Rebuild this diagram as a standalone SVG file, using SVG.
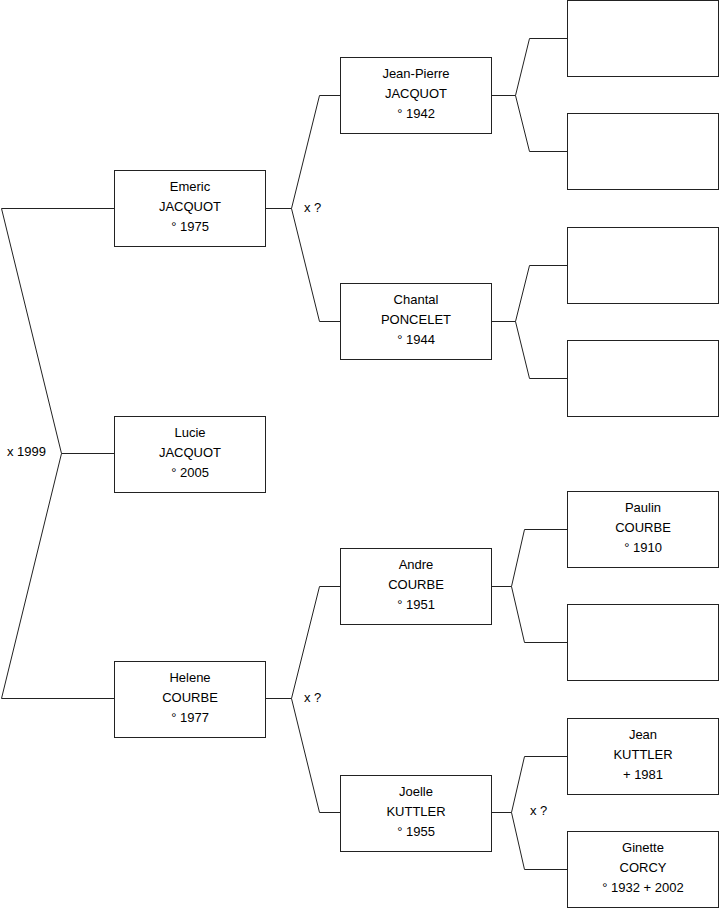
<svg xmlns="http://www.w3.org/2000/svg" width="719" height="908" viewBox="0 0 719 908">
<style>
.box{fill:#fff;stroke:#222;stroke-width:1}
.ln{fill:none;stroke:#222;stroke-width:1}
text{font-family:"Liberation Sans",Arial,sans-serif;font-size:13px;fill:#000}
.c{text-anchor:middle}
</style>
<rect width="719" height="908" fill="#fff"/>
<g id="connectors">
<path class="ln" d="M114,208.5 H1.5 L61.5,453.5 L1.5,698.5 H114 M61.5,453.5 H114"/>
<path class="ln" d="M265,208.5 H291.5 M340,95.5 H319.5 L291.5,208.5 L319.5,321.5 H340"/>
<path class="ln" d="M265,698.5 H291.5 M340,586.5 H319.5 L291.5,698.5 L319.5,812.5 H340"/>
<path class="ln" d="M491,95.5 H515.5 M567,38.5 H529.5 L515.5,95.5 L529.5,151.5 H567"/>
<path class="ln" d="M491,321.5 H515.5 M567,265.5 H529.5 L515.5,321.5 L529.5,378.5 H567"/>
<path class="ln" d="M491,586.5 H511.5 M567,529.5 H524.5 L511.5,586.5 L524.5,642.5 H567"/>
<path class="ln" d="M491,812.5 H511.5 M567,756.5 H524.5 L511.5,812.5 L524.5,869.5 H567"/>
<text x="7" y="456">x 1999</text>
<text x="304" y="212">x ?</text>
<text x="304" y="702">x ?</text>
<text x="530" y="815">x ?</text>
</g>
<g id="emeric"><rect class="box" x="114.5" y="170.5" width="151" height="76"/>
<text class="c" x="190" y="191">Emeric</text><text class="c" x="190" y="211">JACQUOT</text><text class="c" x="190" y="231">° 1975</text></g>
<g id="lucie"><rect class="box" x="114.5" y="416.5" width="151" height="76"/>
<text class="c" x="190" y="437">Lucie</text><text class="c" x="190" y="457">JACQUOT</text><text class="c" x="190" y="477">° 2005</text></g>
<g id="helene"><rect class="box" x="114.5" y="661.5" width="151" height="76"/>
<text class="c" x="190" y="682">Helene</text><text class="c" x="190" y="702">COURBE</text><text class="c" x="190" y="722">° 1977</text></g>
<g id="jeanpierre"><rect class="box" x="340.5" y="57.5" width="151" height="76"/>
<text class="c" x="416" y="78">Jean-Pierre</text><text class="c" x="416" y="98">JACQUOT</text><text class="c" x="416" y="118">° 1942</text></g>
<g id="chantal"><rect class="box" x="340.5" y="283.5" width="151" height="76"/>
<text class="c" x="416" y="304">Chantal</text><text class="c" x="416" y="324">PONCELET</text><text class="c" x="416" y="344">° 1944</text></g>
<g id="andre"><rect class="box" x="340.5" y="548.5" width="151" height="76"/>
<text class="c" x="416" y="569">Andre</text><text class="c" x="416" y="589">COURBE</text><text class="c" x="416" y="609">° 1951</text></g>
<g id="joelle"><rect class="box" x="340.5" y="775.5" width="151" height="76"/>
<text class="c" x="416" y="796">Joelle</text><text class="c" x="416" y="816">KUTTLER</text><text class="c" x="416" y="836">° 1955</text></g>
<g id="gp1"><rect class="box" x="567.5" y="0.5" width="151" height="76"/></g>
<g id="gp2"><rect class="box" x="567.5" y="113.5" width="151" height="76"/></g>
<g id="gp3"><rect class="box" x="567.5" y="227.5" width="151" height="76"/></g>
<g id="gp4"><rect class="box" x="567.5" y="340.5" width="151" height="76"/></g>
<g id="paulin"><rect class="box" x="567.5" y="491.5" width="151" height="76"/>
<text class="c" x="643" y="512">Paulin</text><text class="c" x="643" y="532">COURBE</text><text class="c" x="643" y="552">° 1910</text></g>
<g id="gp6"><rect class="box" x="567.5" y="604.5" width="151" height="76"/></g>
<g id="jean"><rect class="box" x="567.5" y="718.5" width="151" height="76"/>
<text class="c" x="643" y="739">Jean</text><text class="c" x="643" y="759">KUTTLER</text><text class="c" x="643" y="779">+ 1981</text></g>
<g id="ginette"><rect class="box" x="567.5" y="831.5" width="151" height="76"/>
<text class="c" x="643" y="852">Ginette</text><text class="c" x="643" y="872">CORCY</text><text class="c" x="643" y="892">° 1932 + 2002</text></g>
</svg>
